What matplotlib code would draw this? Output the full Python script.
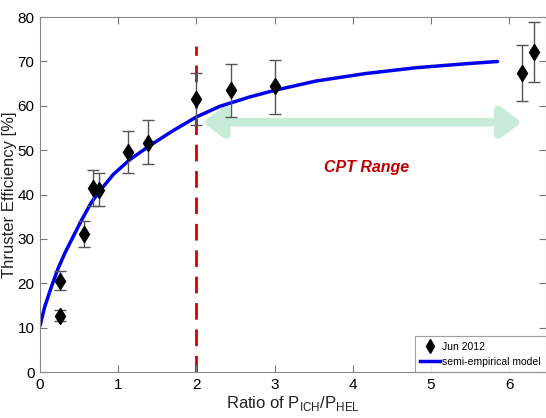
import matplotlib.pyplot as plt
from matplotlib.lines import Line2D

# ========== DATA ==========

# measured points, Jun 2012
ratio = [0.25, 0.26, 0.56, 0.68, 0.75, 1.12, 1.375, 2.0, 2.44, 3.01, 6.16, 6.32]
eff = [12.7, 20.5, 31.1, 41.5, 41.0, 49.6, 51.6, 61.5, 63.5, 64.4, 67.3, 72.1]
err_lo = [1.2, 1.9, 2.9, 4.0, 3.6, 4.7, 4.6, 5.9, 6.0, 6.3, 6.3, 6.7]
err_hi = [1.3, 2.2, 3.0, 4.1, 3.8, 4.7, 5.3, 5.9, 5.9, 5.9, 6.5, 6.9]

# semi-empirical model curve
model_x = [0.0, 0.06, 0.145, 0.23, 0.315, 0.40, 0.53, 0.655, 0.80, 0.94,
           1.15, 1.40, 1.70, 2.0, 2.30, 2.68, 3.0, 3.53, 4.17, 4.81,
           5.45, 5.85]
model_y = [10.4, 14.7, 19.2, 23.3, 26.7, 29.7, 34.2, 38.2, 41.6, 44.6,
           47.9, 51.0, 54.4, 57.5, 59.9, 62.0, 63.5, 65.6, 67.3, 68.6,
           69.5, 70.0]

CPT_START = 2.0
ARROW_X = [2.08, 6.16]
ARROW_Y = 56.3

# ====================================

plt.rcParams["font.family"] = ["Liberation Sans Narrow", "Liberation Sans", "DejaVu Sans"]
REGULAR = ["Liberation Sans", "DejaVu Sans"]

fig = plt.figure(figsize=(5.46, 4.18), dpi=100)
ax = fig.add_axes([0.0733, 0.11, 0.9267, 0.849])

ax.errorbar(ratio, eff, yerr=[err_lo, err_hi], fmt="d", color="black",
            markersize=8, ecolor="#555555", elinewidth=1, capsize=4,
            capthick=1, zorder=3)
ax.plot(model_x, model_y, color="#0000ee", linewidth=2.5,
        solid_joinstyle="round", solid_capstyle="round", zorder=2)

# CPT threshold
ax.plot([CPT_START, CPT_START], [0, 73.5], color="#d40000", linewidth=2,
        dashes=(6, 3.5), zorder=1)

# CPT range arrow
ax.annotate("", xy=(ARROW_X[1], ARROW_Y), xytext=(ARROW_X[0], ARROW_Y),
            arrowprops=dict(arrowstyle="<|-|>,head_length=1.2,head_width=0.9",
                            color="#c6ecd9", linewidth=6, shrinkA=0, shrinkB=0),
            zorder=1)
ax.text(4.18, 46, "CPT Range", color="#c00000", fontsize=11.5,
        fontweight="bold", style="italic", ha="center", va="center")

ax.set_xlim(0, 6.47)
ax.set_ylim(0, 80)
ax.set_xticks(range(0, 7))
ax.set_yticks(range(0, 81, 10))
ax.tick_params(direction="in", top=True, right=True, length=5,
               color="#777777", labelsize=11, pad=4)
for s in ax.spines.values():
    s.set_color("#888888")

ax.set_xlabel("Ratio of P$_{\\mathregular{ICH}}$/P$_{\\mathregular{HEL}}$",
              fontsize=12, labelpad=2, family=REGULAR, color="#222222")
ax.set_ylabel("Thruster Efficiency [%]", fontsize=12, family=REGULAR,
              color="#222222")
ax.yaxis.set_label_coords(-0.045, 0.5)

handles = [
    Line2D([], [], marker="d", color="black", linestyle="none", markersize=7),
    Line2D([], [], color="#0000ee", linewidth=2.5),
]
leg = ax.legend(handles, ["Jun 2012", "semi-empirical model"], loc="lower right",
                fontsize=7.5, frameon=True, fancybox=False,
                edgecolor="#888888", borderaxespad=0, handlelength=1.9,
                borderpad=0.5, labelspacing=0.5, handletextpad=0.2)
leg.get_frame().set_linewidth(0.8)

fig.savefig("out.png", dpi=100)
